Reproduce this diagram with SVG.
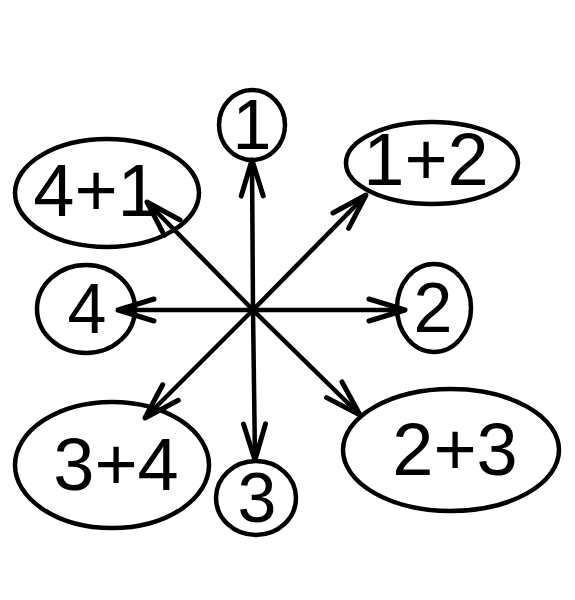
<svg xmlns="http://www.w3.org/2000/svg" width="575" height="600" viewBox="0 0 575 600">
<style>
.n{fill:none;stroke:#000;stroke-width:4.5}
.t{font-family:"Liberation Sans",Arial,sans-serif;fill:#000;text-anchor:middle}
.s{font-size:70px}
.p{font-size:74px}
.c{stroke:#000;stroke-width:4.5;fill:none;marker-end:url(#ah)}
</style>
<defs>
<marker id="ah" markerUnits="userSpaceOnUse" markerWidth="50" markerHeight="30" viewBox="-42 -15 50 30" refX="0" refY="0" orient="auto">
<path d="M-36,-11 L0,0 L-36,11" fill="none" stroke="#000" stroke-width="5" stroke-linecap="round" stroke-linejoin="round"/>
</marker>
</defs>
<rect width="575" height="600" fill="#fff"/>
<g id="connectors">
<line class="c" x1="253" y1="310" x2="252" y2="160"/>
<line class="c" x1="253" y1="310" x2="118" y2="310"/>
<line class="c" x1="253" y1="310" x2="405" y2="310"/>
<line class="c" x1="253" y1="310" x2="255" y2="460"/>
<line class="c" x1="253" y1="310" x2="147" y2="202"/>
<line class="c" x1="253" y1="310" x2="366" y2="195"/>
<line class="c" x1="253" y1="310" x2="145" y2="418"/>
<line class="c" x1="253" y1="310" x2="360" y2="415"/>
</g>
<g id="n1"><ellipse class="n" cx="252" cy="125" rx="33" ry="35"/><text class="t s" x="252" y="149">1</text></g>
<g id="n41"><ellipse class="n" cx="107" cy="193" rx="92" ry="54"/><text class="t p" x="96" y="216">4+1</text></g>
<g id="n4"><ellipse class="n" cx="86" cy="309" rx="49" ry="44"/><text class="t s" x="87" y="333">4</text></g>
<g id="n12"><ellipse class="n" cx="432" cy="163" rx="86" ry="41"/><text class="t p" x="426" y="185">1+2</text></g>
<g id="n2"><ellipse class="n" cx="434" cy="308" rx="37" ry="44"/><text class="t s" x="433" y="332">2</text></g>
<g id="n23"><ellipse class="n" cx="451" cy="450" rx="108" ry="61"/><text class="t p" x="455" y="475">2+3</text></g>
<g id="n34"><ellipse class="n" cx="112" cy="465" rx="97" ry="63"/><text class="t p" x="116" y="490">3+4</text></g>
<g id="n3"><ellipse class="n" cx="256" cy="498" rx="40" ry="37"/><text class="t s" x="257" y="522">3</text></g>
</svg>
